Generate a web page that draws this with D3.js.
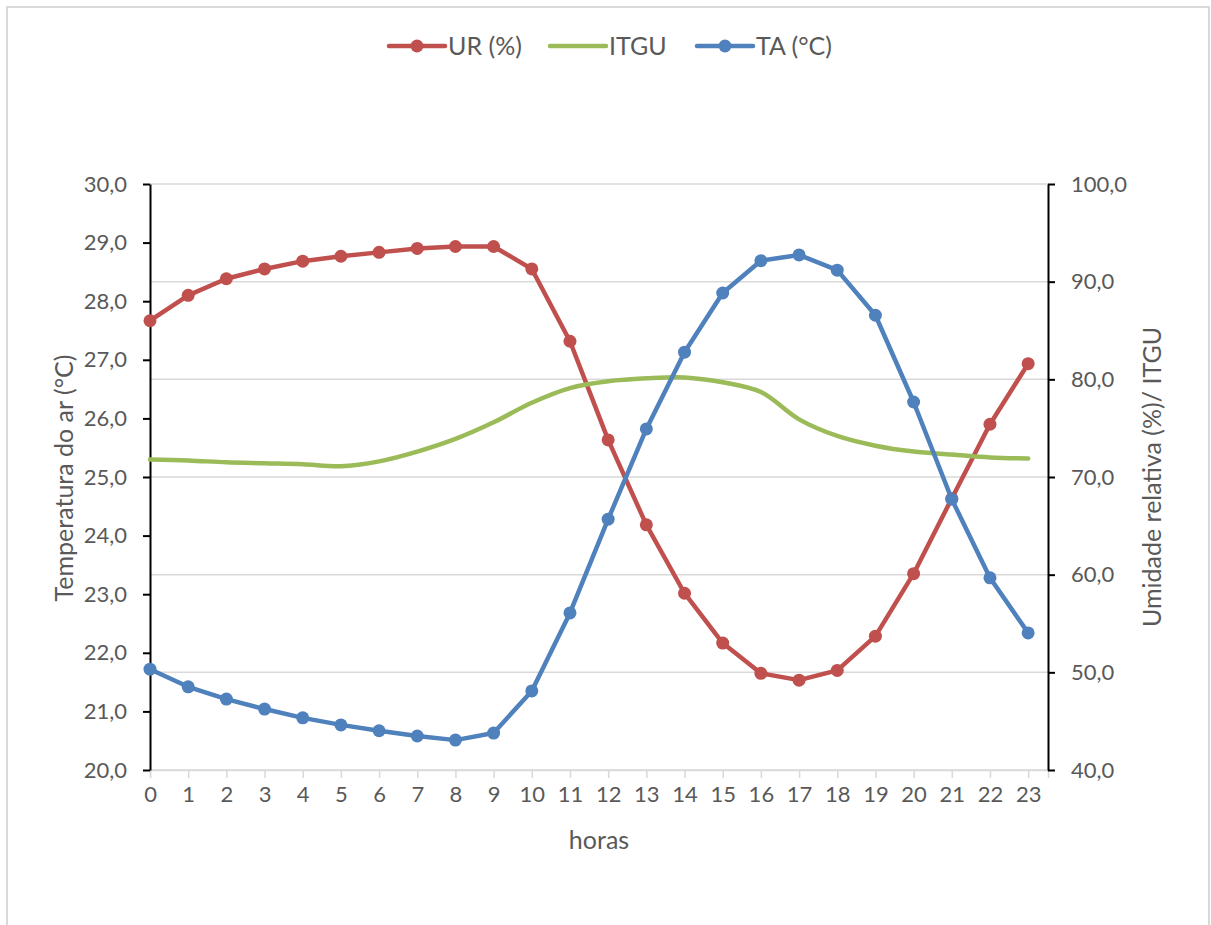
<!DOCTYPE html>
<html>
<head>
<meta charset="utf-8">
<script src="https://cdn.jsdelivr.net/npm/d3@7"></script>
<style>
  body { margin: 0; background: #fff; }
  svg text { font-family: Lato, "Open Sans", sans-serif; fill: #595959; }
</style>
</head>
<body>
<div class="chart"></div>
<script>
// hours of the day
var horas = d3.range(0, 24);

// relative humidity (%), right axis
var ur = [86.0, 88.6, 90.3, 91.3, 92.1, 92.6, 93.0, 93.4, 93.6, 93.6, 91.3, 83.9,
          73.8, 65.1, 58.1, 53.0, 49.9, 49.2, 50.2, 53.7, 60.1, 67.8, 75.4, 81.6];

// ITGU, right axis
var itgu = [71.8, 71.7, 71.5, 71.4, 71.3, 71.1, 71.6, 72.6, 73.9, 75.6, 77.6, 79.1,
            79.8, 80.1, 80.2, 79.7, 78.7, 75.9, 74.2, 73.2, 72.6, 72.3, 72.0, 71.9];

// air temperature (°C), left axis
var ta = [21.72, 21.42, 21.21, 21.04, 20.89, 20.77, 20.67, 20.58, 20.51, 20.63, 21.35, 22.68,
          24.28, 25.82, 27.13, 28.14, 28.69, 28.79, 28.53, 27.76, 26.28, 24.62, 23.28, 22.34];

var leftTicks = d3.range(20, 31, 1);
var rightTicks = d3.range(40, 101, 10);

var w = 1211, h = 925;
var pLeft = 150, pRight = 1048, pTop = 184, pBottom = 770;

var svg = d3.select('.chart').append('svg')
    .attr('width', w)
    .attr('height', h);

// chart border
svg.append('rect')
    .attr('x', 7).attr('y', 7)
    .attr('width', 1202).attr('height', 940)
    .attr('fill', 'none')
    .attr('stroke', '#d9d9d9')
    .attr('stroke-width', 2);

var x = d3.scaleLinear().domain([0, 23.52]).range([pLeft, pRight]);
var yL = d3.scaleLinear().domain([20, 30]).range([pBottom, pTop]);
var yR = d3.scaleLinear().domain([40, 100]).range([pBottom, pTop]);

// gridlines (right axis)
svg.append('g').selectAll('line')
    .data(rightTicks)
    .enter().append('line')
    .attr('x1', pLeft).attr('x2', pRight)
    .attr('y1', function(d) { return yR(d); })
    .attr('y2', function(d) { return yR(d); })
    .attr('stroke', '#d9d9d9')
    .attr('stroke-width', 1.5);

var fmt = function(d) { return d3.format('.1f')(d).replace('.', ','); };

// x axis
var xAxis = svg.append('g')
    .attr('transform', 'translate(0,' + pBottom + ')')
    .call(d3.axisBottom(x).tickValues(horas).tickSize(8).tickPadding(8).tickFormat(d3.format('d')));
xAxis.select('.domain').attr('stroke', '#d9d9d9').attr('stroke-width', 1.5);
xAxis.selectAll('.tick line').attr('stroke', '#d9d9d9').attr('stroke-width', 1.5);
xAxis.selectAll('text').attr('font-size', '22px').style('font-family', 'Lato, sans-serif').attr('fill', '#595959');

// left axis
var la = svg.append('g')
    .attr('transform', 'translate(' + pLeft + ',0)')
    .call(d3.axisLeft(yL).tickValues(leftTicks).tickSize(7).tickSizeOuter(0).tickPadding(16).tickFormat(fmt));
la.select('.domain').attr('stroke', '#000').attr('stroke-width', 2);
la.selectAll('.tick line').attr('stroke', '#000').attr('stroke-width', 2);
la.selectAll('text').attr('font-size', '22px').style('font-family', 'Lato, sans-serif').attr('fill', '#595959');

// right axis
var ra = svg.append('g')
    .attr('transform', 'translate(' + pRight + ',0)')
    .call(d3.axisRight(yR).tickValues(rightTicks).tickSize(7).tickSizeOuter(0).tickPadding(16).tickFormat(fmt));
ra.select('.domain').attr('stroke', '#000').attr('stroke-width', 2);
ra.selectAll('.tick line').attr('stroke', '#000').attr('stroke-width', 2);
ra.selectAll('text').attr('font-size', '22px').style('font-family', 'Lato, sans-serif').attr('fill', '#595959');

// axis titles
svg.append('text')
    .attr('x', 599).attr('y', 849)
    .attr('text-anchor', 'middle')
    .attr('font-size', '25px')
    .text('horas');

svg.append('text')
    .attr('transform', 'translate(73,478) rotate(-90)')
    .attr('text-anchor', 'middle')
    .attr('font-size', '25px')
    .text('Temperatura do ar (°C)');

svg.append('text')
    .attr('transform', 'translate(1161,477) rotate(-90)')
    .attr('text-anchor', 'middle')
    .attr('font-size', '25px')
    .text('Umidade relativa (%)/ ITGU');

var series = [
    { name: 'UR (%)', values: ur, scale: yR, color: '#c0504d', marker: true, curve: d3.curveLinear },
    { name: 'ITGU', values: itgu, scale: yR, color: '#9bbb59', marker: false, curve: d3.curveCatmullRom },
    { name: 'TA (°C)', values: ta, scale: yL, color: '#4f81bd', marker: true, curve: d3.curveLinear }
];

series.forEach(function(s) {
    var line = d3.line()
        .x(function(d, i) { return x(horas[i]); })
        .y(function(d) { return s.scale(d); })
        .curve(s.curve);

    svg.append('path')
        .datum(s.values)
        .attr('fill', 'none')
        .attr('stroke', s.color)
        .attr('stroke-width', 4.5)
        .attr('stroke-linejoin', 'round')
        .attr('stroke-linecap', 'round')
        .attr('d', line);

    if (s.marker) {
        svg.append('g').selectAll('circle')
            .data(s.values)
            .enter().append('circle')
            .attr('cx', function(d, i) { return x(horas[i]); })
            .attr('cy', function(d) { return s.scale(d); })
            .attr('r', 6.5)
            .attr('fill', s.color);
    }
});

// legend
var legX = [389, 550, 697];
var leg = svg.append('g').selectAll('g')
    .data(series)
    .enter().append('g')
    .attr('transform', function(d, i) { return 'translate(' + legX[i] + ',46)'; });

leg.append('line')
    .attr('x1', 0).attr('x2', 56)
    .attr('stroke', function(d) { return d.color; })
    .attr('stroke-width', 4.5)
    .attr('stroke-linecap', 'round');

leg.filter(function(d) { return d.marker; }).append('circle')
    .attr('cx', 28).attr('r', 6.5)
    .attr('fill', function(d) { return d.color; });

leg.append('text')
    .attr('x', 59).attr('y', 9)
    .attr('font-size', '25px')
    .text(function(d) { return d.name; });
</script>
</body>
</html>
